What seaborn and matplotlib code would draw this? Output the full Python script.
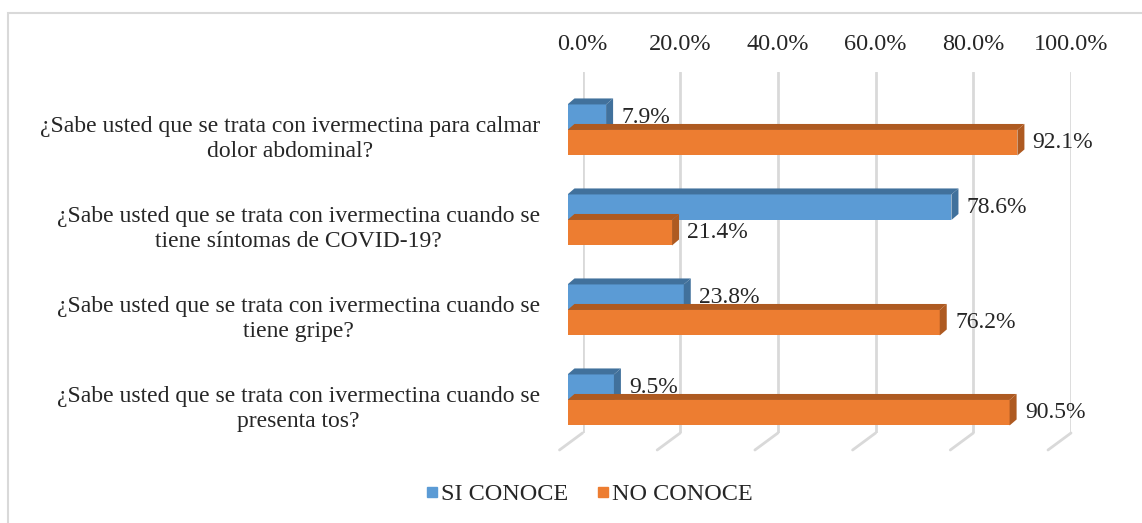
import seaborn as sns
import matplotlib.pyplot as plt
import pandas as pd
from matplotlib.patches import Polygon, Rectangle
from matplotlib.lines import Line2D
from matplotlib.transforms import ScaledTranslation

# data
QUESTIONS = [
    '¿Sabe usted que se trata con ivermectina para calmar\ndolor abdominal?',
    '¿Sabe usted que se trata con ivermectina cuando se\ntiene síntomas de COVID-19?',
    '¿Sabe usted que se trata con ivermectina cuando se\ntiene gripe?',
    '¿Sabe usted que se trata con ivermectina cuando se\npresenta tos?',
]
SERIES = ['SI CONOCE', 'NO CONOCE']
SI_CONOCE = [7.9, 78.6, 23.8, 9.5]
NO_CONOCE = [92.1, 21.4, 76.2, 90.5]
X_TICKS = [0, 20, 40, 60, 80, 100]

COLORS = ['#5B9BD5', '#ED7D31']
DARK = ['#41719C', '#AE5A21']
GRID = '#D9D9D9'

W, H = 1142, 523
# front plane of the bars (pixels)
LEFT, RIGHT = 567.5, 1056.0
TOP, BOTTOM = 72, 433
BACK_SHIFT = 15  # back wall offset in px
DEPTH_X, DEPTH_Y = 7, 6
YLIM = (3.367, -0.644)

rows = []
for q, si, no in zip(QUESTIONS, SI_CONOCE, NO_CONOCE):
    rows.append((q, SERIES[0], si))
    rows.append((q, SERIES[1], no))
df = pd.DataFrame(rows, columns=['pregunta', 'serie', 'valor'])

sns.set_style('white')
plt.rcParams['font.family'] = ['Liberation Serif', 'DejaVu Serif']
plt.rcParams['font.size'] = 17

fig = plt.figure(figsize=(W / 100, H / 100), dpi=100)
fig.patch.set_facecolor('white')
fig.patches.append(Rectangle((8 / W, -0.1), 1.2, 1 - 13 / H + 0.1, fill=False,
                             edgecolor=GRID, linewidth=1.5, transform=fig.transFigure))

ax_pos = [LEFT / W, 1 - BOTTOM / H, (RIGHT - LEFT) / W, (BOTTOM - TOP) / H]
back_pos = [(LEFT + BACK_SHIFT) / W] + ax_pos[1:]

# back wall with gridlines and top tick labels
ax_back = fig.add_axes(back_pos)
ax_back.set_xlim(0, 100)
ax_back.set_ylim(0, 1)
ax_back.patch.set_alpha(0)
for s in ax_back.spines.values():
    s.set_visible(False)
ax_back.set_yticks([])
ax_back.xaxis.tick_top()
ax_back.set_xticks(X_TICKS)
ax_back.set_xticklabels([f'{t:.1f}%' for t in X_TICKS])
ax_back.tick_params(axis='x', length=0, pad=12, labelsize=17.5)
xpp = 100 / (RIGHT - LEFT)
ypp_back = 1 / (BOTTOM - TOP)
for t in X_TICKS:
    ax_back.plot([t, t], [0, 1], color=GRID, lw=2, zorder=1)
    ax_back.plot([t, t - 23 * xpp], [0, -17 * ypp_back], color=GRID, lw=2,
                 clip_on=False, zorder=1)

# front plane with bars
ax = fig.add_axes(ax_pos)
ax.patch.set_alpha(0)
sns.barplot(data=df, y='pregunta', x='valor', hue='serie', hue_order=SERIES,
            palette=COLORS, width=0.567, orient='h', ax=ax, legend=False,
            saturation=1, linewidth=0)
ax.set_xlim(0, 100)
ax.set_ylim(*YLIM)
for s in ax.spines.values():
    s.set_visible(False)
ax.set_xticks([])
ax.set_xlabel('')
ax.set_ylabel('')
ax.tick_params(axis='y', length=0, pad=20, labelsize=17)
shift_down = ScaledTranslation(0, -5 / 100, fig.dpi_scale_trans)
for lab in ax.get_yticklabels():
    lab.set_multialignment('center')
    lab.set_transform(lab.get_transform() + shift_down)

ypp = abs(YLIM[0] - YLIM[1]) / (BOTTOM - TOP)
dx, dy = DEPTH_X * xpp, DEPTH_Y * ypp
for i, cont in enumerate(ax.containers):
    z = 3 + 2 * i
    for p in cont.patches:
        p.set_zorder(z)
        x1 = p.get_width()
        y0 = p.get_y()
        y1 = y0 + p.get_height()
        top = Polygon([(0, y0), (dx, y0 - dy), (x1 + dx, y0 - dy), (x1, y0)],
                      closed=True, facecolor=DARK[i], edgecolor='none', zorder=z)
        side = Polygon([(x1, y0), (x1 + dx, y0 - dy), (x1 + dx, y1 - dy), (x1, y1)],
                       closed=True, facecolor=DARK[i], edgecolor='none', zorder=z)
        ax.add_patch(top)
        ax.add_patch(side)
    ax.bar_label(cont, fmt='%.1f%%', padding=11, fontsize=17, zorder=10)

handles = [Line2D([], [], marker='s', linestyle='', markersize=7,
                  markerfacecolor=c, markeredgecolor=c) for c in COLORS]
fig.legend(handles, SERIES, loc='center', bbox_to_anchor=(588 / W, 1 - 494 / H),
           ncol=2, frameon=False, fontsize=17.5, handletextpad=0.05,
           columnspacing=1.05, handlelength=0.7)

fig.savefig('out.png', dpi=100)
